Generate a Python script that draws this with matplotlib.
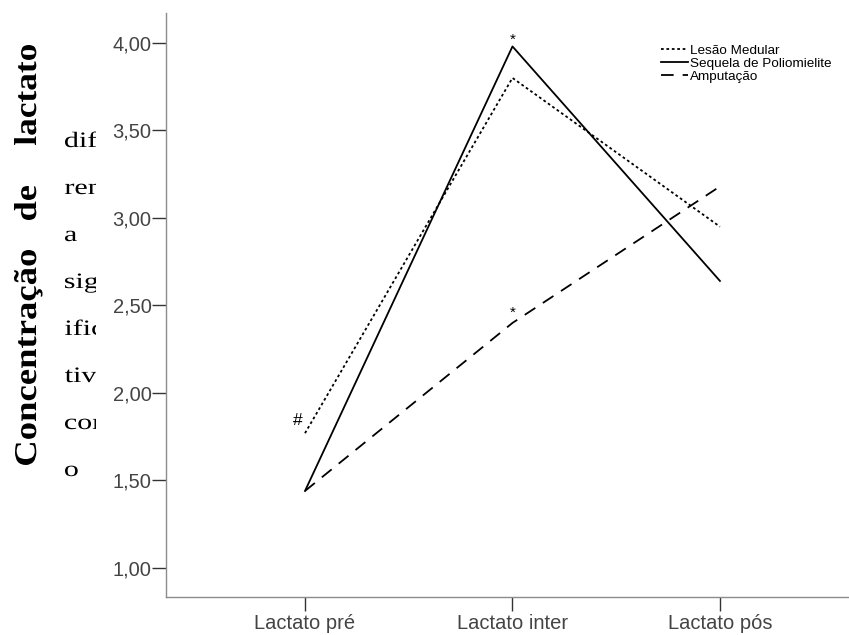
import matplotlib.pyplot as plt
from matplotlib.textpath import TextPath
from matplotlib.patches import PathPatch
from matplotlib.font_manager import FontProperties
from matplotlib.transforms import Affine2D, Bbox

# ============================================================================ #
# data

momentos = ["Lactato pré", "Lactato inter", "Lactato pós"]

lesao    = [1.77, 3.80, 2.95]   # Lesão Medular
sequela  = [1.44, 3.98, 2.64]   # Sequela de Poliomielite
amputa   = [1.44, 2.40, 3.18]   # Amputação

yticks   = [1.0, 1.5, 2.0, 2.5, 3.0, 3.5, 4.0]

titulo     = ["Concentração", "de", "lactato"]
nota_lines = ["dife", "renç", "a", "sign", "ifica", "tiva", "com", "o"]

# ============================================================================ #

W, H = 849, 635
fig = plt.figure(figsize=(W / 100, H / 100), dpi=100)
ax = fig.add_axes([166 / W, 1 - 597 / H, (W - 166) / W, (597 - 13) / H])

x = range(len(momentos))
grey = "#8c8c8c"

ax.plot(x, lesao,   color="black", lw=1.3, ls=(0, (1.5, 1.5)), label="Lesão Medular")
ax.plot(x, sequela, color="black", lw=1.3, ls="-",             label="Sequela de Poliomielite")
ax.plot(x, amputa,  color="black", lw=1.3, ls=(0, (7, 5)),     label="Amputação")

ax.set_xlim(-0.67, 2.622)
ax.set_ylim(0.834, 4.171)

ax.set_xticks(list(x))
ax.set_xticklabels(momentos)
ax.set_yticks(yticks)
ax.set_yticklabels([f"{v:.2f}".replace(".", ",") for v in yticks])

for s in ("top", "right"):
    ax.spines[s].set_visible(False)
for s in ("left", "bottom"):
    ax.spines[s].set_color(grey)
    ax.spines[s].set_linewidth(1.0)

ax.tick_params(axis="both", direction="out", length=10, width=1.0, color="#333333",
               labelcolor="#444444", labelsize=14.5)
ax.tick_params(axis="y", pad=0.5)
ax.tick_params(axis="x", pad=2)
for t in ax.get_xticklabels() + ax.get_yticklabels():
    t.set_family("Liberation Sans")

# markers of significance
ax.text(1, sequela[1] + 0.0, "*", ha="center", va="bottom", fontsize=11, family="Liberation Sans")
ax.text(1, amputa[1] + 0.02, "*", ha="center", va="bottom", fontsize=11, family="Liberation Sans")
ax.text(-0.01, lesao[0] + 0.03, "#", ha="right", va="bottom", fontsize=12.5, family="Liberation Sans")

ax.legend(loc="upper left", bbox_to_anchor=(654 / W, 1 - 38 / H), bbox_transform=fig.transFigure,
          frameon=False, handlelength=2.0, handletextpad=0.2,
          labelspacing=0.04, borderpad=0, prop={"family": "Liberation Sans", "size": 9.7})


# ============================================================================ #
# text on the left (stretched glyphs, done with TextPath)

def put_text(s, x0, y0, sx, sy, rot=0, bold=False, clipx=None, length=None):
    fp = FontProperties(family="Liberation Serif", weight="bold" if bold else "normal")
    tp = TextPath((0, 0), s, size=1, prop=fp)
    ext = tp.get_extents()
    if length is not None:
        sx = length / ext.width
    tr = Affine2D().translate(-ext.x0, 0).scale(sx, sy).rotate_deg(rot).translate(x0, H - y0)
    p = PathPatch(tp, transform=tr, facecolor="black", edgecolor="none", lw=0)
    if clipx is not None:
        p.set_clip_box(Bbox([[0, 0], [clipx, H]]))
        p.set_clip_on(True)
    fig.add_artist(p)

# title: start (bottom) and end (top) of each word in pixels
tit_pos = [(465, 250), (220, 186), (145, 45)]
for w, (a, b) in zip(titulo, tit_pos):
    put_text(w, 36, a, 0, 31.7, rot=90, bold=True, length=a - b)

for i, w in enumerate(nota_lines):
    put_text(w, 65, 147 + i * 47, 30, 22, clipx=96)

fig.savefig("out.png", dpi=100)
